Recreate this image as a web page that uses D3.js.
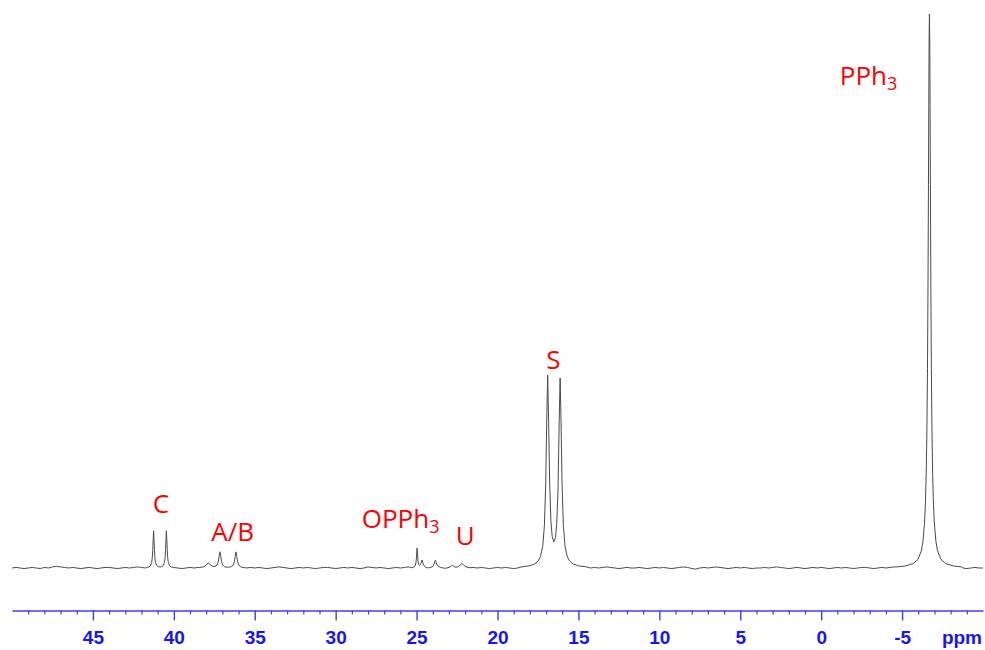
<!DOCTYPE html>
<html>
<head>
<meta charset="utf-8">
<script src="https://cdn.jsdelivr.net/npm/d3@7"></script>
<style>
  html, body { margin: 0; padding: 0; background: #ffffff; }
  svg { display: block; }
</style>
</head>
<body>
<svg id="chart" width="985" height="650"></svg>
<script>
// 31P{1H} NMR spectrum, chemical shift axis runs right-to-left.

const ppmExtent = [50, -10];
const intensityExtent = [0, 1000];

const majorTicks = [45, 40, 35, 30, 25, 20, 15, 10, 5, 0, -5];
const minorTicks = [49, 48, 47, 46, 44, 43, 42, 41, 39, 38, 37, 36, 34, 33, 32, 31,
  29, 28, 27, 26, 24, 23, 22, 21, 19, 18, 17, 16, 14, 13, 12, 11, 9, 8, 7, 6,
  4, 3, 2, 1, -1, -2, -3, -4, -6, -7, -8, -9];
const axisUnit = "ppm";

// baseline samples every 0.25 ppm from 50 ppm downwards
const baselineStart = 50;
const baselineStep = 0.25;
const baselineNoise = [
  0, 1, 0, -1, 0, 1, 0, -1, 1, 0, 2, 3, 2, 1, 0, 1, 0, -1, 0, 1,
  0, -1, 0, 1, 1, 0, -1, 0, 1, 0, 1, 2, 1, 0, 1, 0, -1, 0, 1, 0,
  1, 0, -1, 0, 1, 0, 1, 0, -1, 0, 1, 2, 1, 0, -1, 0, 1, 0, 0, 1,
  0, 1, 0, -1, 0, 1, 2, 1, 0, -1, 0, 1, 0, 1, 0, -1, 0, 1, 1, 0,
  -1, 0, 1, 0, 1, 0, -1, 0, 2, 1, 0, 1, 0, -1, 0, 1, 0, 1, 2, 0,
  0, 1, 0, -1, 0, 1, 0, 1, 0, -1, 0, 1, 0, -1, 1, 0, 1, 0, -1, 0,
  1, 0, 1, 0, -1, 0, 1, 0, 1, 2, 1, 0, -1, 0, 1, 0, 1, 0, -1, 0,
  1, 0, -1, 0, 1, 0, 1, 2, 1, 0, -1, 0, 1, 0, 0, 1, 0, -1, 0, 1,
  0, 1, 0, -1, 0, 1, 2, 1, -1, -2, 0, 1, 0, 1, 2, 1, 0, -1, 0, 1,
  0, 1, 0, -1, 0, 0, 1, 0, 1, 2, 1, 0, -1, 0, 1, 0, -1, 0, 1, 0,
  1, 0, -1, 0, 1, 0, 1, 0, -1, 0, 1, 1, 0, -1, 0, 1, 0, 1, 2, 1,
  0, 1, 0, -1, 0, -1, 0, 1, 0, -1, -1, 0, 1, 0, 1, 0, -1, 0, 1, 0,
  0
];

// resonances: [shift ppm, intensity]
const peakC = [
  [41.70, 0.8], [41.55, 1.8], [41.45, 3.9], [41.37, 9.9], [41.33, 18.8], [41.30, 33.5],
  [41.28, 49], [41.25, 67], [41.22, 49], [41.20, 33.5], [41.17, 18.8], [41.13, 9.9],
  [41.05, 4.2], [40.95, 2.3], [40.855, 2.1], [40.76, 2.3], [40.66, 4.2], [40.58, 9.9],
  [40.54, 18.8], [40.51, 33.5], [40.49, 49], [40.46, 67], [40.43, 49], [40.41, 33.5],
  [40.38, 18.8], [40.34, 9.9], [40.26, 3.9], [40.15, 1.8], [40.00, 0.8]
];

const peakAB = [
  [38.40, 0.8], [38.15, 2.2], [38.00, 5.4], [37.87, 9.4], [37.75, 6.0], [37.60, 3.0],
  [37.45, 2.9], [37.33, 5.4], [37.25, 11.7], [37.20, 21.2], [37.15, 29.3], [37.10, 21.0],
  [37.05, 11.3], [36.97, 4.8], [36.85, 1.9], [36.70, 1.5], [36.55, 1.7], [36.46, 2.3],
  [36.34, 5.0], [36.26, 11.3], [36.21, 20.9], [36.16, 29], [36.11, 20.9], [36.06, 11.3],
  [35.98, 4.8], [35.86, 1.9], [35.66, 0.7]
];

const peakOPPh3 = [
  [25.30, 0.5], [25.12, 2.5], [25.07, 5.5], [25.03, 11.5], [25.00, 23], [24.97, 36],
  [24.94, 23.3], [24.91, 11.5], [24.87, 6], [24.82, 4.5], [24.76, 6.5], [24.71, 10],
  [24.66, 14.5], [24.60, 8.5], [24.54, 4], [24.44, 1.5], [24.30, 0.2], [24.20, 0.6],
  [24.00, 2.5], [23.92, 7], [23.88, 11], [23.84, 14], [23.80, 11], [23.76, 7],
  [23.65, 2.5], [23.45, 0.5], [23.20, -0.5], [22.95, 1.5], [22.85, 4], [22.80, 5],
  [22.75, 4], [22.62, 1.5], [22.45, 2], [22.30, 5.5], [22.20, 8], [22.10, 5.5],
  [21.95, 2], [21.70, 0.5]
];

const peakS = [
  [18.50, 2], [18.00, 4.1], [17.70, 7.3], [17.50, 12.1], [17.35, 20.2], [17.20, 40.5],
  [17.10, 77.8], [17.02, 152.9], [16.96, 263], [16.90, 348], [16.84, 265], [16.78, 156.9],
  [16.70, 85], [16.62, 57], [16.52, 47.1], [16.42, 54.7], [16.34, 79], [16.26, 142],
  [16.19, 261.4], [16.13, 343], [16.07, 259.5], [16.01, 150.8], [15.93, 76.8], [15.83, 40],
  [15.70, 21.6], [15.55, 12.8], [15.35, 7.6], [15.00, 3.9], [14.50, 2]
];

const peakPPh3 = [
  [-4.69, 2], [-5.19, 3.6], [-5.69, 8], [-5.99, 16], [-6.19, 31], [-6.29, 48],
  [-6.39, 83], [-6.44, 115], [-6.49, 168], [-6.53, 240], [-6.57, 360], [-6.60, 500],
  [-6.63, 692], [-6.65, 835], [-6.67, 953], [-6.69, 1000], [-6.71, 953], [-6.73, 835],
  [-6.75, 692], [-6.78, 500], [-6.81, 360], [-6.85, 240], [-6.89, 168], [-6.94, 115],
  [-6.99, 83], [-7.09, 48], [-7.19, 31], [-7.39, 16], [-7.69, 8], [-8.19, 3.6], [-8.69, 2]
];

// peak assignments: label, shift ppm, intensity level of the label baseline
const labelNames = ["C", "A/B", "OPPh3", "U", "S", "PPh3"];
const labelPpm = [40.79, 36.37, 25.99, 22.0, 16.55, -2.93];
const labelLevel = [99, 49, 72, 41.5, 359, 872];

// ---- assemble the trace ----
const peakSegments = [peakC, peakAB, peakOPPh3, peakS, peakPPh3];
const windows = peakSegments.map(seg => [d3.min(seg, d => d[0]), d3.max(seg, d => d[0])]);
const trace = [];
baselineNoise.forEach((v, i) => {
  const ppm = baselineStart - i * baselineStep;
  if (!windows.some(w => ppm >= w[0] && ppm <= w[1])) trace.push([ppm, v]);
});
peakSegments.forEach(seg => seg.forEach(p => trace.push(p)));
trace.sort((a, b) => b[0] - a[0]);

// ---- drawing ----
const svg = d3.select("#chart");
const x = d3.scaleLinear().domain(ppmExtent).range([12, 983]);
const y = d3.scaleLinear().domain(intensityExtent).range([568, 14]);
const axisY = 610.5;
const axisColor = "#3c3cff";
const labelBlue = "#1414ff";

svg.append("rect").attr("width", 985).attr("height", 650).attr("fill", "#ffffff");

const line = d3.line()
  .x(d => x(d[0]))
  .y(d => y(d[1]))
  .curve(d3.curveLinear);

svg.append("path")
  .datum(trace)
  .attr("d", line)
  .attr("fill", "none")
  .attr("stroke", "#4a4a4a")
  .attr("stroke-width", 1)
  .attr("stroke-linejoin", "round");

// minor ticks
const minorAxis = d3.axisBottom(x)
  .tickValues(minorTicks)
  .tickSize(4)
  .tickSizeOuter(0)
  .tickFormat("");
const gMinor = svg.append("g").attr("transform", `translate(0,${axisY})`).call(minorAxis);
gMinor.select(".domain").remove();
gMinor.selectAll(".tick line").attr("stroke", axisColor).attr("stroke-width", 1.2);

// major ticks with labels
const majorAxis = d3.axisBottom(x)
  .tickValues(majorTicks)
  .tickSize(10)
  .tickSizeOuter(0)
  .tickPadding(10)
  .tickFormat(d => String(d));
const gMajor = svg.append("g").attr("transform", `translate(0,${axisY})`).call(majorAxis);
gMajor.select(".domain").attr("stroke", axisColor).attr("stroke-width", 1.6);
gMajor.selectAll(".tick line").attr("stroke", axisColor).attr("stroke-width", 1.4);
gMajor.selectAll(".tick text")
  .attr("fill", labelBlue)
  .style("font-family", "'Liberation Sans', Arial, Helvetica, sans-serif")
  .style("font-weight", "bold")
  .style("font-size", "19px");

svg.append("text")
  .attr("x", 982)
  .attr("y", 644)
  .attr("text-anchor", "end")
  .attr("fill", labelBlue)
  .style("font-family", "'Liberation Sans', Arial, Helvetica, sans-serif")
  .style("font-weight", "bold")
  .style("font-size", "19px")
  .text(axisUnit);

// peak assignment labels
labelNames.forEach((name, i) => {
  const m = name.match(/^(.*?)(\d+)$/);
  const t = svg.append("text")
    .attr("x", x(labelPpm[i]))
    .attr("y", y(labelLevel[i]))
    .attr("text-anchor", "middle")
    .attr("fill", "#ff0000")
    .style("font-family", "'Open Sans', 'Noto Sans', sans-serif")
    .style("font-size", "26px");
  if (m) {
    t.append("tspan").text(m[1]);
    t.append("tspan").attr("dy", 5).style("font-size", "18px").text(m[2]);
  } else {
    t.text(name);
  }
});
</script>
</body>
</html>
